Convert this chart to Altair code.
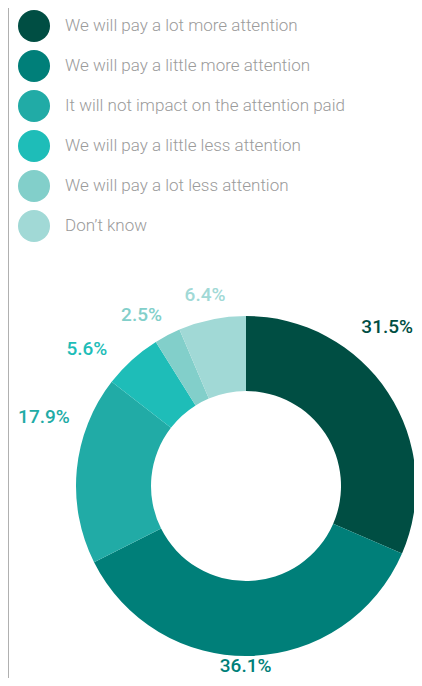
import altair as alt
import pandas as pd

categories = [
    "We will pay a lot more attention",
    "We will pay a little more attention",
    "It will not impact on the attention paid",
    "We will pay a little less attention",
    "We will pay a lot less attention",
    "Don\u2019t know",
]
values = [31.5, 36.1, 17.9, 5.6, 2.5, 6.4]
labels = ["31.5%", "36.1%", "17.9%", "5.6%", "2.5%", "6.4%"]
colors = ["#004e43", "#007f79", "#21aba6", "#1ebdb8", "#82cfca", "#a1d9d6"]

df = pd.DataFrame({
    "category": categories,
    "value": values,
    "label": labels,
    "idx": list(range(len(categories))),
})

W, H = 406, 670
CX, CY = 238, 478
R_OUT, R_IN = 170, 95
LABEL_R = 200
# manual nudges of the value labels (dx, dy) in pixels
NUDGE = {
    "We will pay a lot more attention": (-26, -49),
    "We will pay a little more attention": (-6, -20),
    "It will not impact on the attention paid": (-3, -50),
    "We will pay a little less attention": (-25, 11),
    "We will pay a lot less attention": (-12, 6),
    "Don\u2019t know": (-1, 5),
}

scale = alt.Scale(domain=categories, range=colors)

base = alt.Chart(df).transform_window(
    cum="sum(value)", sort=[alt.SortField("idx")], frame=[None, 0]
).transform_calculate(mid="datum.cum - datum.value / 2")

arc = base.mark_arc(outerRadius=R_OUT, innerRadius=R_IN).encode(
    theta=alt.Theta("value:Q", stack=True),
    order=alt.Order("idx:Q"),
    color=alt.Color(
        "category:N",
        scale=scale,
        sort=categories,
        legend=alt.Legend(
            title=None,
            orient="none",
            legendX=10,
            legendY=2,
            symbolType="circle",
            symbolSize=1024,
            symbolStrokeWidth=0,
            symbolOpacity=1,
            labelFont="Roboto",
            labelFontSize=17,
            labelFontWeight=300,
            labelColor="#9b9b9b",
            labelOffset=15,
            rowPadding=8,
            labelLimit=400,
            padding=0,
        ),
    ),
    x=alt.value(CX),
    y=alt.value(CY),
)

text_layers = []
for cat in categories:
    dx, dy = NUDGE[cat]
    t = base.transform_filter(alt.datum.category == cat).mark_text(
        radius=LABEL_R,
        dx=dx,
        dy=dy,
        font="Roboto",
        fontSize=19,
        fontWeight=500,
        align="center",
        baseline="middle",
    ).encode(
        theta=alt.Theta("mid:Q", stack=None, scale=alt.Scale(domain=[0, 100], range=[0, 6.283185307179586])),
        text="label:N",
        color=alt.Color("category:N", scale=scale, legend=None),
        x=alt.value(CX),
        y=alt.value(CY),
    )
    text_layers.append(t)

edge = alt.Chart(df).mark_rule(color="#b0b0b0", strokeWidth=1).encode(
    x=alt.value(0.5), y=alt.value(0), y2=alt.value(H)
)

chart = alt.layer(edge, arc, *text_layers).properties(
    width=W, height=H, autosize=alt.AutoSizeParams(type="none"), padding=0
).configure_view(stroke=None)

chart.save("out.html", embed_options={"renderer": "svg", "actions": False})
